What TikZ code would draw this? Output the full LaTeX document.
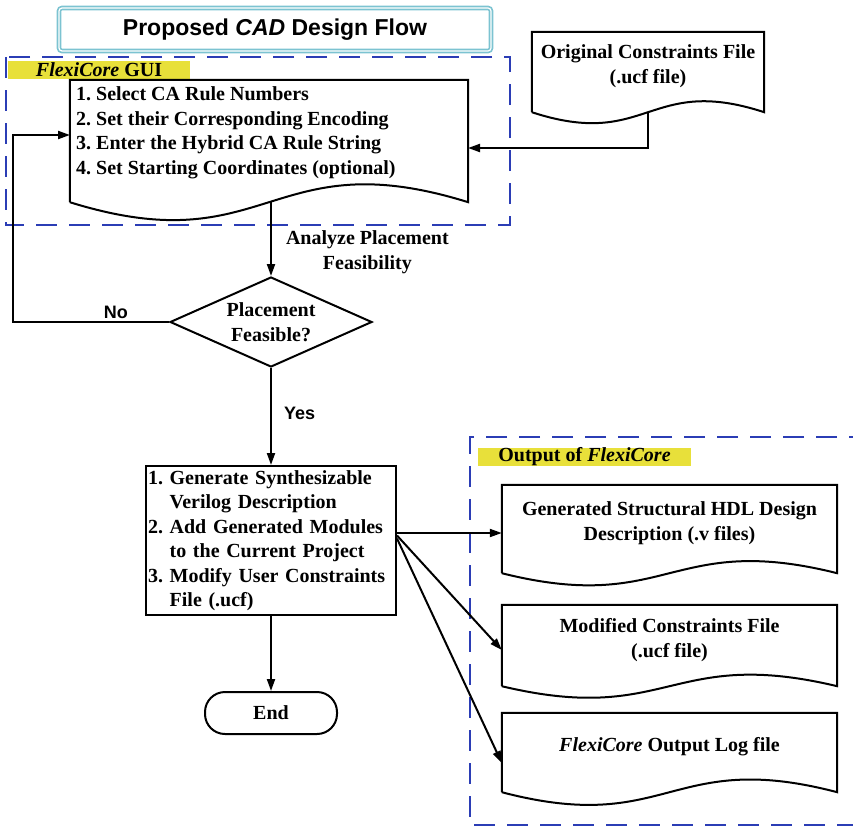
\documentclass[tikz,border=0pt]{standalone}
\usepackage{fontspec}
\setmainfont{Liberation Serif}
\setsansfont{Liberation Sans}
\usetikzlibrary{arrows.meta,calc,shapes.geometric,positioning}
\definecolor{dashblue}{HTML}{2B3DB5}
\definecolor{tagyellow}{HTML}{E8E03A}
\definecolor{titlecyan}{HTML}{7CC3D1}
\newcommand{\docframe}[2]{%
 \draw[line width=2pt] (#1.south west) -- (#1.north west) -- (#1.north east) -- (#1.south east)
  .. controls ($(#1.south)+(0,-#2)$) and ($(#1.south)+(0,#2)$) .. (#1.south west);}
\newcommand{\numgap}{\phantom{1.}\ }
\frenchspacing
\begin{document}
\begin{tikzpicture}
[x=1pt,y=-1pt,font=\fontsize{20}{24.5}\selectfont\bfseries,
 flow/.style={line width=2pt,-{Triangle[length=12pt,width=8pt]}},
 docbox/.style={inner sep=0pt},
 tag/.style={fill=tagyellow,inner sep=0pt,minimum height=18pt},
 zone/.style={draw=dashblue,line width=2.5pt,dash pattern=on 21pt off 12pt},
 lbl/.style={font=\sffamily\bfseries\fontsize{18}{20}\selectfont,inner sep=2pt}]
 \useasboundingbox (0,0) rectangle (853,827);

 \node[draw=titlecyan,double=white,double distance=1.2pt,line width=1.7pt,rounded corners=3pt,
  minimum width=432pt,minimum height=43pt,font=\sffamily\bfseries\fontsize{23}{28}\selectfont]
  (title) at (275,29.5) {Proposed \textit{CAD} Design Flow};

 \draw[zone] (6,57) rectangle (510,225);
 \node[tag,minimum width=182pt] (guitag) at (99,70) {\textit{FlexiCore} GUI};
 \node[docbox,minimum width=398pt,minimum height=122pt] (gui) at (269,141) {};
 \docframe{gui}{62}
 \node[align=left,anchor=west,inner sep=0pt] (guisteps) at (76,133)
  {1. Select CA Rule Numbers\\2. Set their Corresponding Encoding\\3. Enter the Hybrid CA Rule String\\4. Set Starting Coordinates (optional)};

 \node[docbox,minimum width=232pt,minimum height=80pt] (orig) at (648,72) {};
 \docframe{orig}{38}
 \node[align=center] (origtxt) at (648,66) {Original Constraints File\\(.ucf file)};
 \coordinate (guiright) at (468,148);
 \draw[flow] (orig.south) |- (guiright);

 \node[diamond,draw,line width=2pt,aspect=2.2,minimum width=202pt,minimum height=90pt,inner sep=0pt,align=center]
  (feas) at (271,322) {Placement\\Feasible?};
 \draw[flow] (feas.north |- gui.south) -- node[pos=0.68,right,xshift=12pt,inner sep=2pt,align=center]
  {Analyze Placement\\Feasibility} (feas.north);

 \coordinate (noleft) at (13,0);
 \coordinate (guiin) at (70,135);
 \draw[flow] (feas.west) -- node[lbl,pos=0.34,above]{No} (feas.west -| noleft) |- (guiin);

 \node[draw,line width=2pt,minimum width=250pt,minimum height=149pt,text width=246pt,inner xsep=1pt,align=left]
  (gen) at (271,540.5) {1. Generate Synthesizable\\\numgap Verilog Description\\2. Add Generated Modules\\\numgap to the Current Project\\3. Modify User Constraints\\\numgap File (.ucf)};
 \draw[flow] (feas.south) -- node[lbl,pos=0.47,right,xshift=10pt]{Yes} (gen.north);

 \node[draw,line width=2pt,rounded corners=20pt,minimum width=132pt,minimum height=42pt] (done) at (271,713) {End};
 \draw[flow] (gen.south) -- (done.north);

 \draw[zone] (870,437) -- (470,437) -- (470,825) -- (870,825);
 \node[tag,minimum width=213pt] (outtag) at (584.5,457) {Output of \textit{FlexiCore}};

 \node[docbox,minimum width=335pt,minimum height=88pt] (hdl) at (669.5,529) {};
 \docframe{hdl}{42}
 \node[align=center] (hdltxt) at (669.5,523) {Generated Structural HDL Design\\Description (.v files)};
 \node[docbox,minimum width=335pt,minimum height=81pt] (mod) at (669.5,645.5) {};
 \docframe{mod}{40}
 \node[align=center] (modtxt) at (669.5,640) {Modified Constraints File\\(.ucf file)};
 \node[docbox,minimum width=335pt,minimum height=79pt] (logfile) at (669.5,752.5) {};
 \docframe{logfile}{44}
 \node (logtxt) at (669.5,747) {\textit{FlexiCore} Output Log file};

 \draw[flow] ([yshift=7.5pt]gen.east) -- ([yshift=7.5pt]gen.east -| hdl.west);
 \draw[flow] ([yshift=5pt]gen.east) -- ([yshift=-4.5pt]mod.west);
 \draw[flow] ([yshift=2pt]gen.east) -- ([yshift=-10.5pt]logfile.west);
\end{tikzpicture}
\end{document}
